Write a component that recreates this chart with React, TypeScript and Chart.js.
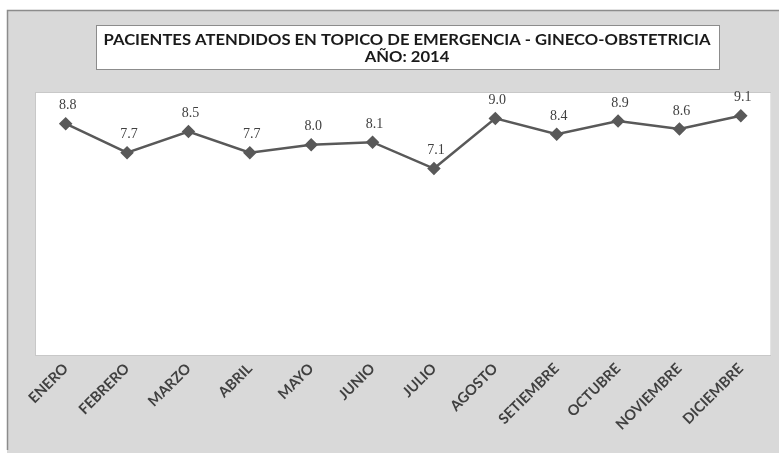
import React, { useEffect, useRef } from "react";
import { Chart, registerables } from "chart.js";

Chart.register(...registerables);

const months = ["ENERO", "FEBRERO", "MARZO", "ABRIL", "MAYO", "JUNIO", "JULIO", "AGOSTO", "SETIEMBRE", "OCTUBRE", "NOVIEMBRE", "DICIEMBRE"];
const values = [8.8, 7.7, 8.5, 7.7, 8.0, 8.1, 7.1, 9.0, 8.4, 8.9, 8.6, 9.1];
const titleLines = ["PACIENTES ATENDIDOS EN TOPICO DE EMERGENCIA - GINECO-OBSTETRICIA", "AÑO: 2014"];

const bgPlugin = {
  id: "bgPlugin",
  beforeDraw(chart: any) {
    const { ctx, width, height, chartArea } = chart;
    ctx.save();
    ctx.fillStyle = "#ffffff";
    ctx.fillRect(0, 0, width, height);
    ctx.fillStyle = "#d9d9d9";
    ctx.fillRect(7, 10, width - 7, height - 10);
    ctx.strokeStyle = "#8c8c8c";
    ctx.lineWidth = 1.5;
    ctx.beginPath();
    ctx.moveTo(7.5, height - 3);
    ctx.lineTo(7.5, 10.5);
    ctx.lineTo(width, 10.5);
    ctx.stroke();
    ctx.fillStyle = "#ffffff";
    ctx.fillRect(chartArea.left, chartArea.top, chartArea.right - chartArea.left, chartArea.bottom - chartArea.top);
    ctx.strokeStyle = "#c8c8c8";
    ctx.lineWidth = 1;
    ctx.strokeRect(chartArea.left + 0.5, chartArea.top + 0.5, chartArea.right - chartArea.left - 1, chartArea.bottom - chartArea.top - 1);
    // title box
    ctx.fillStyle = "#ffffff";
    ctx.fillRect(96, 25, 624, 45);
    ctx.strokeStyle = "#8c8c8c";
    ctx.lineWidth = 1;
    ctx.strokeRect(96.5, 25.5, 623, 44);
    ctx.fillStyle = "#1a1a1a";
    ctx.font = "bold 15px Lato";
    ctx.textAlign = "center";
    ctx.textBaseline = "middle";
    const w0 = ctx.measureText(titleLines[0]).width;
    const sx = 607 / w0;
    ctx.translate(407, 0);
    ctx.scale(sx, 1);
    ctx.fillText(titleLines[0], 0, 40);
    ctx.fillText(titleLines[1], 0, 57);
    ctx.restore();
  },
};

const labelPlugin = {
  id: "labelPlugin",
  afterDatasetsDraw(chart: any) {
    const { ctx } = chart;
    const meta = chart.getDatasetMeta(0);
    ctx.save();
    ctx.fillStyle = "#404040";
    ctx.font = "14px 'Liberation Serif'";
    ctx.textAlign = "center";
    ctx.textBaseline = "middle";
    meta.data.forEach((pt: any, i: number) => {
      ctx.fillText(values[i].toFixed(1), pt.x + 2, pt.y - 18);
    });
    ctx.restore();
  },
};

export default function App() {
  const ref = useRef<HTMLCanvasElement>(null);
  useEffect(() => {
    document.body.style.margin = "0";
    const chart = new Chart(ref.current!, {
      type: "line",
      data: {
        labels: months,
        datasets: [
          {
            data: values,
            borderColor: "#595959",
            backgroundColor: "#595959",
            borderWidth: 2.5,
            pointStyle: "rectRot",
            pointRadius: 5,
            pointHoverRadius: 5,
            tension: 0,
          },
        ],
      },
      options: {
        animation: false,
        responsive: false,
        layout: { padding: { left: 35, right: 3, top: 92, bottom: 0 } },
        plugins: { legend: { display: false }, title: { display: false }, tooltip: { enabled: false } },
        scales: {
          x: {
            offset: true,
            grid: { display: false, drawTicks: false },
            border: { display: false },
            ticks: {
              minRotation: 45,
              maxRotation: 45,
              color: "#404040",
              padding: 4,
              font: { family: "Lato", size: 14.5, weight: "bold" },
            },
            afterFit(scale: any) {
              scale.height = 97;
            },
          },
          y: { display: false, min: 0, max: 10 },
        },
      },
      plugins: [bgPlugin, labelPlugin],
    });
    return () => chart.destroy();
  }, []);
  return <canvas ref={ref} width={779} height={453} style={{ display: "block" }} />;
}
